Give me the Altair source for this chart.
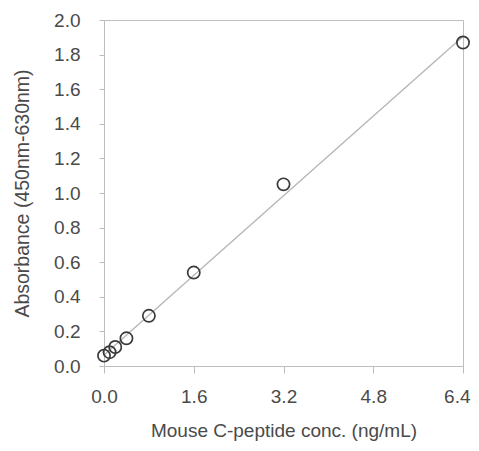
import altair as alt
import pandas as pd

conc = [0.0, 0.1, 0.2, 0.4, 0.8, 1.6, 3.2, 6.4]
absorb = [0.06, 0.08, 0.11, 0.16, 0.29, 0.54, 1.05, 1.87]
x_ticks = [0.0, 1.6, 3.2, 4.8, 6.4]
y_ticks = [0.0, 0.2, 0.4, 0.6, 0.8, 1.0, 1.2, 1.4, 1.6, 1.8, 2.0]

df = pd.DataFrame({"x": conc, "y": absorb})

W, H = 359, 346
FONT = "Liberation Sans"
GRAY = "#bdbdbd"
TXT = "#4a4a4a"

xscale = alt.Scale(domain=[0, 6.4], nice=False, zero=False)
yscale = alt.Scale(domain=[0, 2.0], nice=False)

xaxis = alt.Axis(values=x_ticks, format=".1f", ticks=True, tickSize=7, tickColor=GRAY,
                 grid=False, domainColor=GRAY, labelPadding=14, labelFontSize=19,
                 labelColor=TXT, labelFont=FONT, labelOverlap=False, labelFlush=False,
                 labelAlign=alt.expr("datum.value >= 6.39 ? 'right' : 'center'"),
                 labelOffset=alt.expr("datum.value >= 6.39 ? 7 : 0"),
                 title="Mouse C-peptide  conc. (ng/mL)",
                 titleFont=FONT, titleFontSize=19, titleFontWeight="normal",
                 titleColor=TXT, titlePadding=15)
yaxis = alt.Axis(values=y_ticks, format=".1f", ticks=True, tickSize=5, tickColor=GRAY,
                 grid=False, domainColor=GRAY, labelPadding=19, labelFontSize=19,
                 labelColor=TXT, labelFont=FONT, labelOverlap=False, labelFlush=False,
                 title="Absorbance (450nm-630nm)",
                 titleFont=FONT, titleFontSize=19.5, titleFontWeight="normal",
                 titleColor=TXT, titlePadding=21)

X = alt.X("x:Q", scale=xscale, axis=xaxis)
Y = alt.Y("y:Q", scale=yscale, axis=yaxis)

line = alt.Chart(df).transform_regression("x", "y").mark_line(
    color="#b5b5b5", strokeWidth=1.3
).encode(x=X, y=Y)

pts = alt.Chart(df).mark_point(
    shape="circle", filled=False, color="#3a3a3a", strokeWidth=1.7, size=150, opacity=1
).encode(x=X, y=Y)

chart = alt.layer(line, pts).properties(
    width=W, height=H,
    autosize=alt.AutoSizeParams(type="none"),
    padding={"left": 96, "top": 12, "right": 8, "bottom": 75},
    background="white",
).configure_view(stroke=GRAY, strokeWidth=1)

chart.save("out.html", embed_options={"renderer": "svg", "actions": False})
